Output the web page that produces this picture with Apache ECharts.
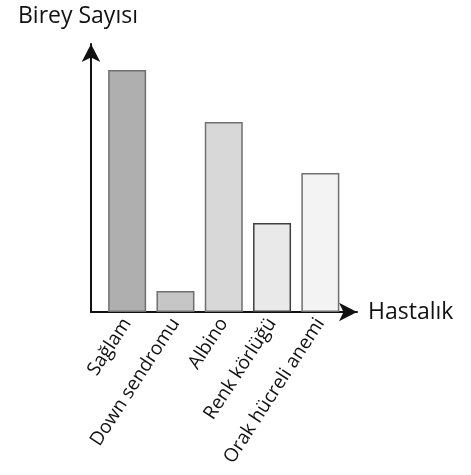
<!DOCTYPE html>
<html>
<head>
<meta charset="utf-8">
<script src="https://cdn.jsdelivr.net/npm/echarts@6/dist/echarts.min.js"></script>
<style>
  html, body { margin: 0; padding: 0; background: #fff; }
  #chart { width: 471px; height: 475px; }
</style>
</head>
<body>
<div id="chart"></div>
<script>
// hastalık kategorileri ve birey sayıları (okunan değerler)
var categories = ["Sağlam", "Down sendromu", "Albino", "Renk körlüğü", "Orak hücreli anemi"];
var values = [24.2, 2.1, 19.0, 8.9, 13.9];
var barColors = ["#afafaf", "#c6c6c6", "#d8d8d8", "#e9e9e9", "#f3f3f3"];
var borderColors = ["#707070", "#707070", "#707070", "#404040", "#707070"];

var myChart = echarts.init(document.getElementById("chart"));
var fontFamily = "'Open Sans', sans-serif";

var option = {
  backgroundColor: "#fff",
  animation: false,
  title: {
    text: "Birey Sayısı",
    left: 13,
    top: 0,
    textStyle: {
      color: "#111",
      fontSize: 23,
      fontWeight: "normal",
      fontFamily: fontFamily,
    },
  },
  grid: [
    // eksen okları için
    { left: 91, right: 114, top: 44, bottom: 163 },
    // çubuklar için
    { left: 103, right: 126.5, top: 35, bottom: 163 },
  ],
  xAxis: [
    {
      gridIndex: 0,
      type: "value",
      min: 0,
      max: 1,
      name: "Hastalık",
      nameLocation: "end",
      nameGap: 11,
      nameTextStyle: {
        color: "#111",
        fontSize: 23,
        fontFamily: fontFamily,
        padding: [0, 0, 14, 0],
      },
      axisLine: {
        show: true,
        symbol: ["none", "arrow"],
        symbolSize: [14, 18],
        lineStyle: { color: "#111", width: 2 },
      },
      axisTick: { show: false },
      axisLabel: { show: false },
      splitLine: { show: false },
    },
    {
      gridIndex: 1,
      type: "category",
      data: categories,
      axisLine: { show: false },
      axisTick: { show: false },
      axisLabel: {
        rotate: 57,
        margin: 8,
        color: "#111",
        fontSize: 19,
        fontFamily: fontFamily,
        interval: 0,
      },
    },
  ],
  yAxis: [
    {
      gridIndex: 0,
      type: "value",
      min: 0,
      max: 1,
      axisLine: {
        show: true,
        symbol: ["none", "arrow"],
        symbolSize: [14, 18],
        lineStyle: { color: "#111", width: 2 },
      },
      axisTick: { show: false },
      axisLabel: { show: false },
      splitLine: { show: false },
    },
    {
      gridIndex: 1,
      type: "value",
      min: 0,
      max: 27.7,
      show: false,
      splitLine: { show: false },
    },
  ],
  series: [
    {
      type: "bar",
      xAxisIndex: 1,
      yAxisIndex: 1,
      barWidth: 38,
      data: values.map(function (v, i) {
        return {
          value: v,
          itemStyle: {
            color: barColors[i],
            borderColor: borderColors[i],
            borderWidth: 1.5,
          },
        };
      }),
    },
  ],
};

myChart.setOption(option);
window.onresize = function () {
  myChart.resize();
};
</script>
</body>
</html>
